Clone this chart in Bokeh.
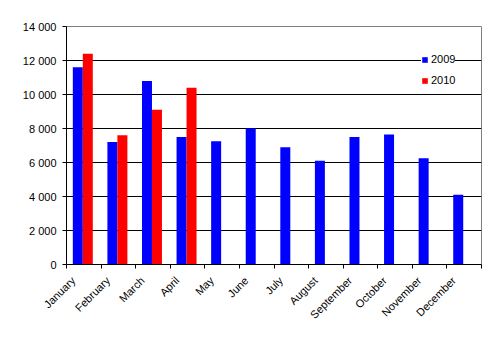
import math
from bokeh.plotting import figure
from bokeh.models import FixedTicker, ColumnDataSource
from bokeh.embed import file_html
from bokeh.resources import INLINE

months = ["January", "February", "March", "April", "May", "June", "July",
          "August", "September", "October", "November", "December"]
series_2009 = [11600, 7200, 10800, 7500, 7250, 8000, 6900, 6100, 7500, 7650, 6250, 4100]
series_2010 = [12400, 7600, 9100, 10400]
y_ticks = [0, 2000, 4000, 6000, 8000, 10000, 12000, 14000]
y_tick_labels = ["0", "2 000", "4 000", "6 000", "8 000", "10 000", "12 000", "14 000"]

FONT = "Liberation Sans"
LABEL_SHIFT = 0.3

idx = list(range(len(months)))
src09 = ColumnDataSource(dict(x=[i - 0.173 for i in idx], top=series_2009))
src10 = ColumnDataSource(dict(x=[i + 0.116 for i in idx[:len(series_2010)]], top=series_2010))

p = figure(frame_width=415, frame_height=238,
           min_border_left=66, min_border_right=16, min_border_top=26, min_border_bottom=76,
           x_range=(-0.5, len(months) - 0.5), y_range=(0, 14000),
           output_backend="svg", toolbar_location=None)
p.background_fill_color = "white"
p.border_fill_color = "white"
p.outline_line_color = "#808080"

p.vbar(x="x", top="top", width=0.289, source=src09, color="#0000FF", line_color=None, legend_label="2009")
p.vbar(x="x", top="top", width=0.289, source=src10, color="#FF0000", line_color=None, legend_label="2010")

# x axis: labels near category centres, ticks at category boundaries
label_pos = [i - LABEL_SHIFT for i in idx]
xa = p.xaxis[0]
xa.ticker = FixedTicker(ticks=label_pos, minor_ticks=[i - 0.5 for i in range(len(months) + 1)])
xa.major_label_overrides = {pos: m for pos, m in zip(label_pos, months)}
xa.major_label_orientation = math.pi / 4
xa.major_tick_out = 0
xa.major_tick_in = 0
xa.minor_tick_out = 4
xa.minor_tick_in = 0
xa.minor_tick_line_color = "black"
xa.axis_line_color = "black"
xa.major_label_text_font = FONT
xa.major_label_text_font_size = "11px"
xa.major_label_text_color = "black"
xa.major_label_standoff = 10

# y axis
ya = p.yaxis[0]
ya.ticker = FixedTicker(ticks=y_ticks, minor_ticks=[])
ya.major_label_overrides = {v: s for v, s in zip(y_ticks, y_tick_labels)}
ya.major_tick_out = 4
ya.major_tick_in = 0
ya.major_tick_line_color = "black"
ya.axis_line_color = "black"
ya.major_label_text_font = FONT
ya.major_label_text_font_size = "11px"
ya.major_label_text_color = "black"
ya.major_label_standoff = 6

p.xgrid.visible = False
p.ygrid.ticker = FixedTicker(ticks=y_ticks[1:-1], minor_ticks=[])
p.ygrid.grid_line_color = "black"
p.ygrid.grid_line_alpha = 1.0

lg = p.legend[0]
lg.location = (355, 177)
lg.border_line_color = None
lg.background_fill_color = "white"
lg.background_fill_alpha = 1.0
lg.glyph_width = 7
lg.glyph_height = 7
lg.label_height = 14
lg.spacing = 7
lg.padding = 8
lg.margin = 0
lg.label_standoff = 3
lg.label_text_font = FONT
lg.label_text_font_size = "11px"
lg.label_text_color = "black"

open("out.html", "w").write(file_html(p, INLINE))
